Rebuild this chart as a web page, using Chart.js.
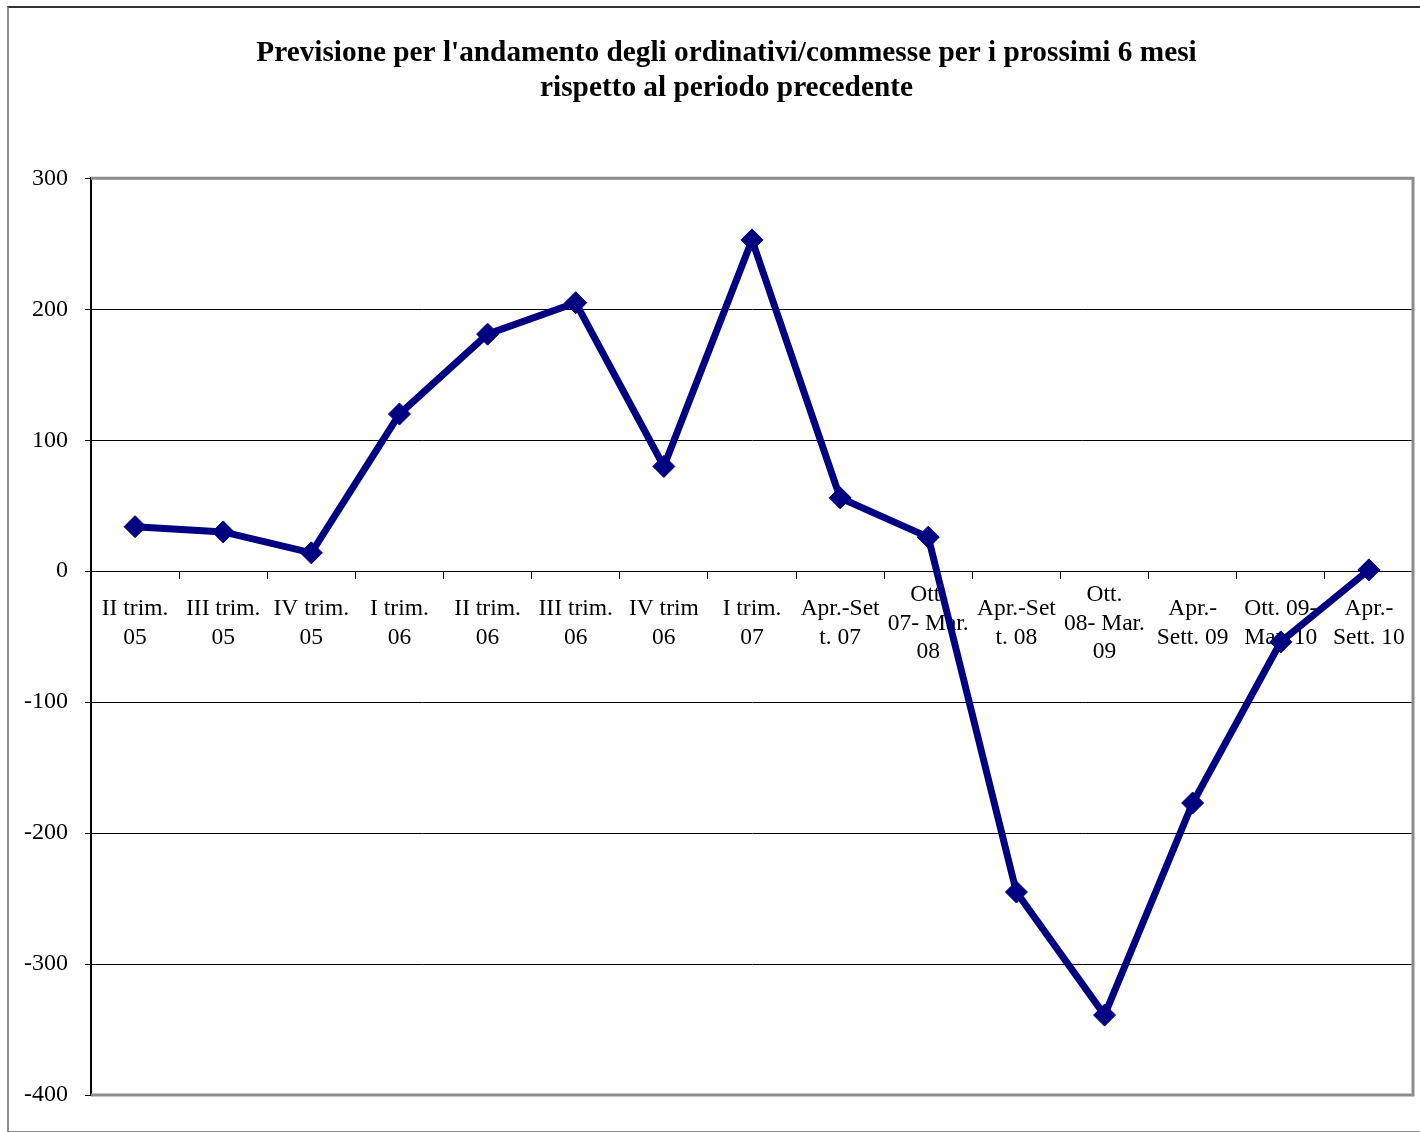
<!DOCTYPE html>
<html>
<head>
<meta charset="utf-8">
<script src="https://cdn.jsdelivr.net/npm/chart.js@4.4.1/dist/chart.umd.min.js"></script>
<style>
  html, body { margin: 0; padding: 0; background: #fff; overflow: hidden; }
  #wrap { position: relative; width: 1420px; height: 1132px; overflow: hidden; }
  #frame { position: absolute; left: 7px; top: 6px; width: 1460px; height: 1123px;
           border-left: 2px solid #8c8c8c; border-bottom: 2px solid #8c8c8c; border-top: 2px solid #333;
           pointer-events: none; }
  canvas { position: absolute; left: 0; top: 0; }
</style>
</head>
<body>
<div id="wrap">
  <canvas id="c" width="1460" height="1132"></canvas>
  <div id="frame"></div>
</div>
<script>
// Periods (quarters / half-years)
const periods = [
  ['II trim.', '05'], ['III trim.', '05'], ['IV trim.', '05'],
  ['I trim.', '06'], ['II trim.', '06'], ['III trim.', '06'], ['IV trim', '06'],
  ['I trim.', '07'], ['Apr.-Set', 't. 07'], ['Ott.', '07- Mar.', '08'],
  ['Apr.-Set', 't. 08'], ['Ott.', '08- Mar.', '09'], ['Apr.-', 'Sett. 09'],
  ['Ott. 09-', 'Mar. 10'], ['Apr.-', 'Sett. 10']
];
// Forecast balance for orders over the next 6 months
const forecast = [34, 30, 14, 120, 181, 205, 80, 253, 56, 26, -245, -339, -177, -54, 1];
// Value axis
const yMin = -400;
const yMax = 300;
const yStep = 100;

const titleLines = [
  "Previsione per l'andamento degli ordinativi/commesse per i prossimi 6 mesi",
  'rispetto al periodo precedente'
];

const serif = '"Liberation Serif", "Times New Roman", serif';

// Grey frame around the plotting area (top, right, bottom)
const plotFrame = {
  id: 'plotFrame',
  beforeDatasetsDraw(chart) {
    const { ctx, chartArea: a } = chart;
    ctx.save();
    ctx.strokeStyle = '#8c8c8c';
    ctx.lineWidth = 3;
    ctx.beginPath();
    ctx.moveTo(a.left, a.top);
    ctx.lineTo(a.right, a.top);
    ctx.lineTo(a.right, a.bottom);
    ctx.lineTo(a.left, a.bottom);
    ctx.stroke();
    ctx.restore();
  }
};

new Chart(document.getElementById('c'), {
  type: 'line',
  data: {
    labels: periods,
    datasets: [{
      data: forecast,
      borderColor: '#000080',
      backgroundColor: '#000080',
      borderWidth: 7,
      pointStyle: 'rectRot',
      pointRadius: 11,
      pointBorderWidth: 1,
      pointBackgroundColor: '#000080',
      pointBorderColor: '#000080',
      tension: 0,
      fill: false
    }]
  },
  options: {
    responsive: false,
    animation: false,
    layout: { padding: { left: 8, right: 15, top: 0, bottom: 37 } },
    plugins: {
      legend: { display: false },
      tooltip: { enabled: false },
      title: {
        display: true,
        text: titleLines,
        color: '#000',
        font: { family: serif, size: 29.3, weight: 'bold', lineHeight: 1.2 },
        padding: { top: 36, bottom: 72 }
      }
    },
    scales: {
      x: {
        position: { y: 0 },
        offset: true,
        // space kept to the right of the plotting area
        afterFit(scale) { scale.paddingRight = 47; },
        grid: {
          offset: true,
          drawOnChartArea: false,
          color: '#000',
          tickLength: 7,
          tickColor: '#000'
        },
        border: { color: '#000', width: 1 },
        ticks: {
          color: '#000',
          font: { family: serif, size: 23.5, lineHeight: 1.2 },
          maxRotation: 0,
          autoSkip: false,
          crossAlign: 'center',
          padding: 17
        }
      },
      y: {
        min: yMin,
        max: yMax,
        afterFit(scale) { scale.width = 83; },
        ticks: {
          stepSize: yStep,
          color: '#000',
          font: { family: serif, size: 24 },
          padding: 17
        },
        grid: {
          color: '#000',
          lineWidth: 1,
          tickLength: 6,
          tickColor: '#000'
        },
        border: { color: '#000', width: 2 }
      }
    }
  },
  plugins: [plotFrame]
});
</script>
</body>
</html>
